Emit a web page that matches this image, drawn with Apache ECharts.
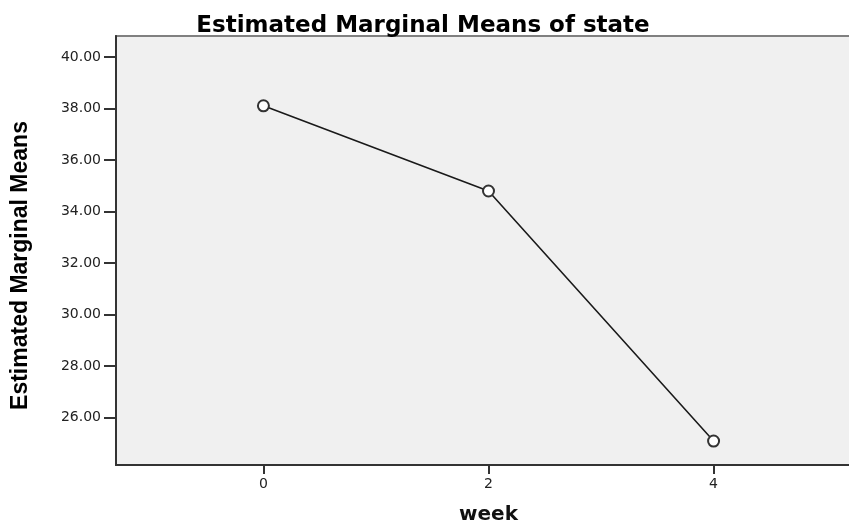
<!DOCTYPE html>
<html><head><meta charset="utf-8">
<script src="https://cdn.jsdelivr.net/npm/echarts@6/dist/echarts.min.js"></script>
<style>html,body{margin:0;padding:0;background:#fff}#c{width:849px;height:527px}</style>
</head><body><div id="c"></div>
<script>
const weeks = [0, 2, 4];
const means = [38.11, 34.80, 25.09];
const xTicks = [0, 2, 4];
const yTicks = [26, 28, 30, 32, 34, 36, 38, 40];

const chart = echarts.init(document.getElementById('c'), null, {renderer: 'canvas'});
chart.setOption({
  animation: false,
  backgroundColor: '#ffffff',
  title: {
    text: 'Estimated Marginal Means of state',
    left: 418, top: 10, textAlign: 'center',
    textStyle: {fontFamily: 'DejaVu Sans, Verdana, sans-serif', fontWeight: 'bold', fontSize: 23, color: '#000'}
  },
  grid: {
    left: 116, top: 36, bottom: 62, right: -12,
    outerBoundsMode: 'none',
    show: true, backgroundColor: '#f0f0f0', borderColor: '#808080', borderWidth: 2
  },
  xAxis: {
    type: 'value', min: -1.31, max: 5.31,
    name: 'week', nameLocation: 'middle', nameGap: 40,
    nameTextStyle: {fontFamily: 'DejaVu Sans, Verdana, sans-serif', fontWeight: 'bold', fontSize: 20, color: '#111'},
    axisLine: {show: true, onZero: false, lineStyle: {color: '#333', width: 2}},
    axisTick: {show: true, customValues: xTicks, length: 9, lineStyle: {color: '#333', width: 2}},
    axisLabel: {customValues: xTicks, fontFamily: 'DejaVu Sans, Verdana, sans-serif', fontSize: 14, color: '#222', margin: 12},
    splitLine: {show: false}
  },
  yAxis: {
    type: 'value', min: 24.16, max: 40.82,
    name: 'Estimated Marginal Means', nameLocation: 'middle', nameGap: 84, nameRotate: 90,
    nameTextStyle: {fontFamily: 'Liberation Sans, Arial, sans-serif', fontWeight: 'bold', fontSize: 23, color: '#000', padding: [0, 30, 0, 0]},
    axisLine: {show: true, onZero: false, lineStyle: {color: '#333', width: 2}},
    axisTick: {show: true, customValues: yTicks, length: 12, lineStyle: {color: '#333', width: 2}},
    axisLabel: {customValues: yTicks, formatter: v => v.toFixed(2), fontFamily: 'DejaVu Sans, Verdana, sans-serif', fontSize: 14, color: '#222', margin: 15},
    splitLine: {show: false}
  },
  series: [{
    type: 'line',
    data: weeks.map((w, i) => [w, means[i]]),
    symbol: 'emptyCircle', symbolSize: 11,
    lineStyle: {color: '#1a1a1a', width: 1.6},
    itemStyle: {color: '#333', borderColor: '#333', borderWidth: 1.4}
  }]
});
</script></body></html>
